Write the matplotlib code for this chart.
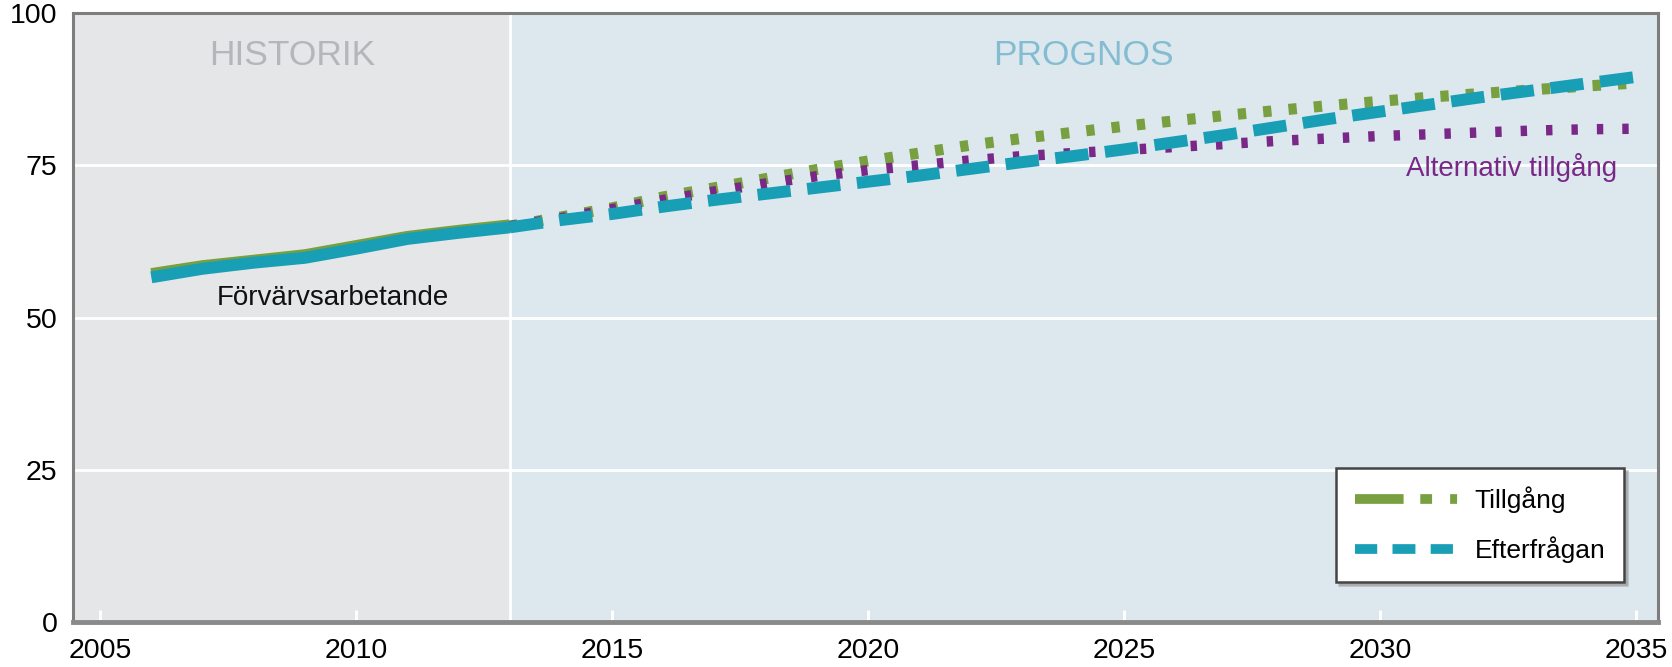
import matplotlib
matplotlib.use("Agg")
import matplotlib.pyplot as plt
from matplotlib.lines import Line2D

plt.rcParams['font.family'] = ['Liberation Sans', 'DejaVu Sans']
plt.rcParams['lines.scale_dashes'] = False

# ---- data ----
hist_years = [2006, 2007, 2008, 2009, 2010, 2011, 2012, 2013]
hist_supply = [57.2, 58.5, 59.4, 60.3, 61.8, 63.3, 64.3, 65.2]
hist_demand = [56.6, 58.0, 59.0, 59.8, 61.3, 62.9, 63.9, 64.8]

fc_years = list(range(2013, 2036))
fc_supply = [65.0, 66.5, 68.0, 69.8, 71.3, 72.8, 74.3, 75.7, 77.0, 78.3, 79.4, 80.4,
             81.4, 82.3, 83.2, 84.0, 84.8, 85.5, 86.2, 86.8, 87.4, 88.0, 88.5]
fc_demand = [64.8, 66.0, 67.0, 68.2, 69.3, 70.3, 71.3, 72.3, 73.3, 74.4, 75.5, 76.5,
             77.6, 78.8, 80.0, 81.3, 82.6, 83.8, 85.0, 86.2, 87.3, 88.4, 89.5]
fc_alt = [65.0, 66.3, 67.8, 69.3, 70.7, 72.0, 73.2, 74.2, 75.0, 75.8, 76.5, 77.0,
          77.5, 78.0, 78.5, 79.0, 79.4, 79.8, 80.1, 80.4, 80.7, 80.9, 81.0]

x_ticks = [2005, 2010, 2015, 2020, 2025, 2030, 2035]
y_ticks = [0, 25, 50, 75, 100]

GREEN = '#78a040'
CYAN = '#189fb6'
PURPLE = '#7a2888'

fig = plt.figure(figsize=(16.72, 6.67), dpi=100)
ax = fig.add_axes([73 / 1672, 45 / 667, (1658 - 73) / 1672, (622 - 13) / 667])

x0, x1 = 2004.47, 2035.43
split = 2013
ax.set_xlim(x0, x1)
ax.set_ylim(0, 100)
ax.axvspan(x0, split, color='#e5e6e8', zorder=0)
ax.axvspan(split, x1, color='#dde8ee', zorder=0)
ax.axvline(split, color='white', lw=2, zorder=1)
for y in [25, 50, 75]:
    ax.axhline(y, color='white', lw=2, zorder=1)

# historic
ax.plot(hist_years, hist_supply, color=GREEN, lw=8, solid_capstyle='butt', zorder=3)
ax.plot(hist_years, hist_demand, color=CYAN, lw=8.6, solid_capstyle='butt', zorder=4)

# forecasts
ax.plot(fc_years, fc_supply, color=GREEN, lw=8, dashes=(6, 12.3), dash_capstyle='butt', zorder=3)
ax.plot(fc_years, fc_alt, color=PURPLE, lw=7.5, dashes=(4.6, 13.7), dash_capstyle='butt', zorder=3)
ax.plot(fc_years, fc_demand, color=CYAN, lw=8.6, dashes=(24, 12), dash_capstyle='butt', zorder=4)

# labels
ax.text(2008.75, 93, 'HISTORIK', color='#b5b6ba', fontsize=25.5, ha='center', va='center')
ax.text(2024.2, 93, 'PROGNOS', color='#84bdd2', fontsize=25.5, ha='center', va='center')
ax.text(2009.55, 53.2, 'Förvärvsarbetande', color='#111111', fontsize=20, ha='center', va='center')
ax.text(2034.63, 74.6, 'Alternativ tillgång', color=PURPLE, fontsize=20, ha='right', va='center')

# axes styling
ax.set_xticks(x_ticks)
ax.set_yticks(y_ticks)
ax.tick_params(axis='x', direction='in', length=9, width=2, color='white',
               labelsize=20.5, pad=11.5)
ax.tick_params(axis='y', length=0, labelsize=20.5, pad=11)
for s in ax.spines.values():
    s.set_color('#7d7d7d')
    s.set_linewidth(2.2)
ax.spines['bottom'].set_linewidth(3.5)
ax.spines['bottom'].set_color('#8a8a8a')

# legend
h1 = Line2D([0], [0], color=GREEN, lw=7, dashes=(35, 12, 8.5, 13, 5, 40), dash_capstyle='butt')
h2 = Line2D([0], [0], color=CYAN, lw=7, dashes=(16, 11, 16.5, 11, 16, 40), dash_capstyle='butt')
leg = ax.legend([h1, h2], ['Tillgång', 'Efterfrågan'], loc='lower right',
                bbox_to_anchor=(0.9785, 0.066), fontsize=19, frameon=True,
                fancybox=False, handlelength=3.9, handletextpad=0.65,
                borderpad=0.7, labelspacing=0.9, borderaxespad=0,
                shadow={'ox': 2, 'oy': -2, 'color': '#9a9a9a', 'alpha': 0.6})
leg.get_frame().set_edgecolor('#444444')
leg.get_frame().set_linewidth(1.8)
leg.get_frame().set_facecolor('white')

fig.savefig('out.png', dpi=100)
